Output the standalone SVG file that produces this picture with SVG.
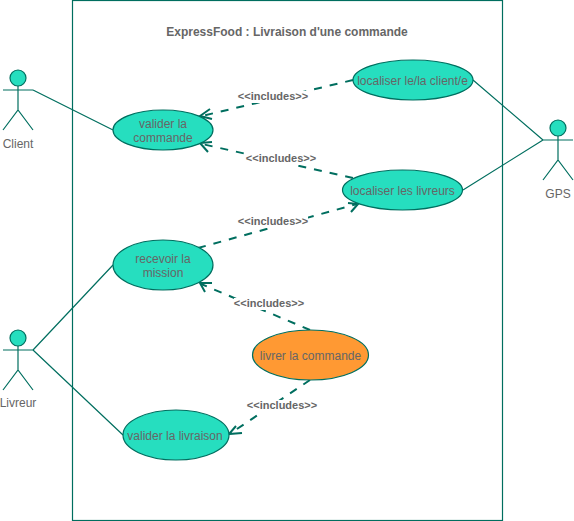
<svg xmlns="http://www.w3.org/2000/svg" width="574" height="521" viewBox="0 0 574 521">
<style>
text{font-family:"Liberation Sans",Arial,sans-serif;font-size:12px;fill:#666666;text-anchor:middle}
.b{font-weight:bold;font-size:11px}
.t{font-weight:bold;font-size:12px}
.u{fill:#26DEBF;stroke:#006E5F;stroke-width:1.2}
.o{fill:#FF9933;stroke:#006E5F;stroke-width:1.2}
.s{fill:none;stroke:#006E5F;stroke-width:1.2}
.d{fill:none;stroke:#006E5F;stroke-width:2;stroke-dasharray:8 8}
.h{fill:none;stroke:#006E5F;stroke-width:2}
.lb{fill:#fff;stroke:none}
</style>
<rect id="boundary" x="72.500" y="0.500" width="430" height="520" fill="#fff" stroke="#006E5F" stroke-width="1.2"/>
<text class="t" x="287" y="36">ExpressFood : Livraison d'une commande</text>
<g id="connectors">
<path class="s" d="M33 90L113 130M33 350L113 265M33 350L123 435M473 80L543 140M463 190L543 140"/>
<path class="d" d="M353 80L202 116"/>
<path class="h" d="M210 109L200 116L212 119"/>
<path class="d" d="M353 178L202 144"/>
<path class="h" d="M212 142L200 143L208 152"/>
<path class="d" d="M198 248L357 204"/>
<path class="h" d="M348 203L358 204L351 212"/>
<path class="d" d="M310 330L201 284"/>
<path class="h" d="M205 292L200 283L212 283"/>
<path class="d" d="M310 380L231 433"/>
<path class="h" d="M236 426L229 434L242 433"/>
<rect class="lb" x="238" y="91" width="70" height="12"/>
<rect class="lb" x="246" y="153" width="70" height="12"/>
<rect class="lb" x="238" y="216" width="70" height="12"/>
<rect class="lb" x="234" y="298" width="70" height="12"/>
<rect class="lb" x="247" y="400" width="70" height="12"/>
<text class="b" x="273" y="100">&lt;&lt;includes&gt;&gt;</text>
<text class="b" x="281" y="162">&lt;&lt;includes&gt;&gt;</text>
<text class="b" x="273" y="225">&lt;&lt;includes&gt;&gt;</text>
<text class="b" x="269" y="307">&lt;&lt;includes&gt;&gt;</text>
<text class="b" x="282" y="409">&lt;&lt;includes&gt;&gt;</text>
</g>
<g id="actor-client"><circle class="u" cx="18" cy="78" r="8"/><path class="s" d="M18 86V110M3 90H33M3 130L18 110L33 130"/><text x="18" y="148">Client</text></g>
<g id="actor-livreur"><circle class="u" cx="18" cy="338" r="8"/><path class="s" d="M18 346V370M3 350H33M3 390L18 370L33 390"/><text x="18" y="407">Livreur</text></g>
<g id="actor-gps"><circle class="u" cx="558" cy="128" r="8"/><path class="s" d="M558 136V160M543 140H573M543 180L558 160L573 180"/><text x="558" y="198">GPS</text></g>
<g id="uc-valider-commande"><ellipse class="u" cx="163" cy="130" rx="50" ry="20"/><text x="163" y="128">valider la</text><text x="163" y="142">commande</text></g>
<g id="uc-localiser-client"><ellipse class="u" cx="413" cy="80" rx="60" ry="20"/><text x="412.500" y="85">localiser le/la client/e</text></g>
<g id="uc-localiser-livreurs"><ellipse class="u" cx="402.500" cy="190" rx="60" ry="20"/><text x="402.500" y="195">localiser les livreurs</text></g>
<g id="uc-recevoir"><ellipse class="u" cx="163" cy="265" rx="50" ry="25"/><text x="163" y="263">recevoir la</text><text x="163" y="277">mission</text></g>
<g id="uc-livrer"><ellipse class="o" cx="310.500" cy="355" rx="58" ry="25"/><text x="310.500" y="360">livrer la commande</text></g>
<g id="uc-valider-livraison"><ellipse class="u" cx="176" cy="435" rx="53" ry="25"/><text x="175" y="440">valider la livraison</text></g>
</svg>
